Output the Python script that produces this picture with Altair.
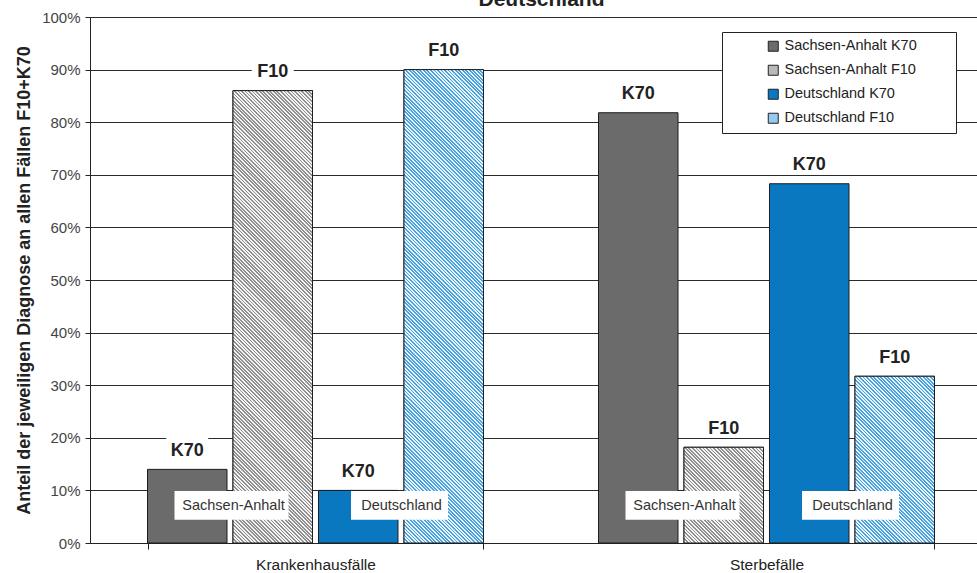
import altair as alt
import pandas as pd

# ---- data -------------------------------------------------------------
categories = ["Krankenhausfälle", "Sterbefälle"]
series = ["Sachsen-Anhalt K70", "Sachsen-Anhalt F10", "Deutschland K70", "Deutschland F10"]
diagnoses = ["K70", "F10", "K70", "F10"]
regions = ["Sachsen-Anhalt", "Deutschland"]
krankenhaus_share = [0.14, 0.86, 0.10, 0.90]
sterbe_share = [0.818, 0.182, 0.683, 0.317]

# ---- styling ----------------------------------------------------------
FONT = "Liberation Sans"
W, H = 887, 526                 # plot area
X_RANGE = 902                   # two category slots, the second runs past the right edge
X_PAD_INNER = 0.255
OFF_PAD_INNER = 0.07
flat_colors = ["#6b6b6b", "#b9b9b9", "#0a78c0", "#98c9ee"]
stripe_colors = {
    "Sachsen-Anhalt F10": ("#8f8f8f", "#f4f4f4"),
    "Deutschland F10": ("#4aa1e0", "#eaf4fc"),
}
# keeps trailing spaces in legend labels (a zero-width char stops the trim)
LEGEND_TAIL = "\u00a0" * 8 + "\u200b"

rows = []
for cat, vals in zip(categories, [krankenhaus_share, sterbe_share]):
    for s, d, v in zip(series, diagnoses, vals):
        rows.append({"Kategorie": cat, "Reihe": s, "Diagnose": d, "Anteil": v})
df = pd.DataFrame(rows)

label_df = pd.DataFrame(
    [{"Kategorie": c, "Region": r} for c in categories for r in regions]
)

x_enc = alt.X(
    "Kategorie:N",
    sort=categories,
    scale=alt.Scale(domain=categories, range=[0, X_RANGE],
                    paddingInner=X_PAD_INNER, paddingOuter=X_PAD_INNER / 2),
    axis=alt.Axis(title=None, labelAngle=0, tickBand="extent", labelFont=FONT,
                  labelFontSize=15.5, labelColor="#222", labelPadding=8,
                  tickSize=6, tickColor="#222", domainColor="#222"),
)
off_enc = alt.XOffset(
    "Reihe:N", sort=series,
    scale=alt.Scale(type="band", domain=series, paddingInner=OFF_PAD_INNER, paddingOuter=0),
)
y_enc = alt.Y(
    "Anteil:Q",
    scale=alt.Scale(domain=[0, 1], nice=False),
    axis=alt.Axis(
        title="Anteil der jeweiligen Diagnose an allen Fällen F10+K70",
        titleFont=FONT, titleFontSize=18, titleFontWeight="bold", titleColor="#222",
        titlePadding=8, format=".0%", values=[i / 10 for i in range(11)],
        labelFont=FONT, labelFontSize=15, labelColor="#444", labelPadding=5,
        tickSize=5, tickColor="#222", domainColor="#222",
        grid=True, gridColor="#2b2b2b", gridWidth=1,
    ),
)

base = alt.Chart(df)

bars = base.mark_bar(stroke="#1e1e1e", strokeWidth=1).encode(
    x=x_enc, xOffset=off_enc, y=y_enc,
    color=alt.Color(
        "Reihe:N", sort=series,
        scale=alt.Scale(domain=series, range=flat_colors),
        legend=alt.Legend(
            title=None, orient="none", legendX=632, legendY=15,
            direction="vertical", fillColor="white", strokeColor="#222",
            padding=7, symbolType="square", symbolSize=100,
            symbolStrokeColor="#222", symbolStrokeWidth=1, symbolOffset=37,
            labelFont=FONT, labelFontSize=14.5, labelColor="#222",
            rowPadding=8, labelLimit=400,
            labelExpr=f"datum.label + '{LEGEND_TAIL}'",
        ),
    ),
)

# geometry of a single bar, used to keep the hatch at 45 degrees
step = X_RANGE / 2
band = step * (1 - X_PAD_INNER)
bar_w = band / (len(series) - OFF_PAD_INNER) * (1 - OFF_PAD_INNER)


def stripe_gradient(dark, light, w, h, period=2.5):
    r = h / w
    t_max = min(1.0, (1 + r) / (1 + r * r))
    dt = period * 2 ** 0.5 / (w * (1 + r * r))
    stops = []
    t = 0.0
    while t < t_max:
        a = round(t, 6)
        b = round(min(t + dt / 2, 1.0), 6)
        c = round(min(t + dt, 1.0), 6)
        stops += [
            {"offset": a, "color": dark},
            {"offset": b, "color": dark},
            {"offset": b, "color": light},
            {"offset": c, "color": light},
        ]
        t += dt
    return {"gradient": "linear", "x1": 0, "y1": 1, "x2": 1, "y2": 1 - r, "stops": stops}


hatch_layers = []
for rec in df.itertuples():
    if rec.Reihe not in stripe_colors:
        continue
    dark, light = stripe_colors[rec.Reihe]
    grad = stripe_gradient(dark, light, bar_w, rec.Anteil * H)
    hatch_layers.append(
        base.mark_bar(fill=grad, stroke="#1e1e1e", strokeWidth=1)
        .encode(x=x_enc, xOffset=off_enc, y=y_enc)
        .transform_filter(
            (alt.datum.Kategorie == rec.Kategorie) & (alt.datum.Reihe == rec.Reihe)
        )
    )

# region captions in white boxes straddling each pair of bars
reg_off = alt.XOffset(
    "Region:N", sort=regions,
    scale=alt.Scale(type="band", domain=regions, paddingInner=0, paddingOuter=0),
)
region_boxes = alt.Chart(label_df).mark_bar(color="white").encode(
    x=x_enc, xOffset=reg_off,
    y=alt.datum(0.099, type="quantitative"),
    y2=alt.datum(0.044),
    size=alt.Size("Region:N", scale=alt.Scale(domain=regions, range=[114, 97]), legend=None),
)
region_text = alt.Chart(label_df).mark_text(
    font=FONT, fontSize=14.5, color="#333", dx=2
).encode(
    x=x_enc, xOffset=reg_off,
    y=alt.datum(0.071, type="quantitative"),
    text="Region:N",
)

# diagnosis labels above the bars
label_bg = base.mark_tick(color="white", size=42, thickness=21, yOffset=-24, opacity=1).encode(
    x=x_enc, xOffset=off_enc, y=y_enc
)
label_text = base.mark_text(
    font=FONT, fontSize=18, fontWeight="bold", color="#222", dy=-18.5
).encode(x=x_enc, xOffset=off_enc, y=y_enc, text="Diagnose:N")

chart = (
    alt.layer(bars, *hatch_layers, region_boxes, region_text, label_bg, label_text)
    .resolve_scale(xOffset="independent")
    .properties(
        width=W, height=H,
        title=alt.TitleParams(
            "Deutschland", font=FONT, fontSize=21, fontWeight="bold", color="#222",
            anchor="middle", frame="group", baseline="alphabetic", offset=-17,
            dx=8,
        ),
        autosize=alt.AutoSizeParams(type="none"),
        padding={"left": 90, "top": 17, "right": 0, "bottom": 30},
        background="white",
    )
    .configure_view(stroke=None)
)

chart.save("out.html", embed_options={"renderer": "svg", "actions": False})
